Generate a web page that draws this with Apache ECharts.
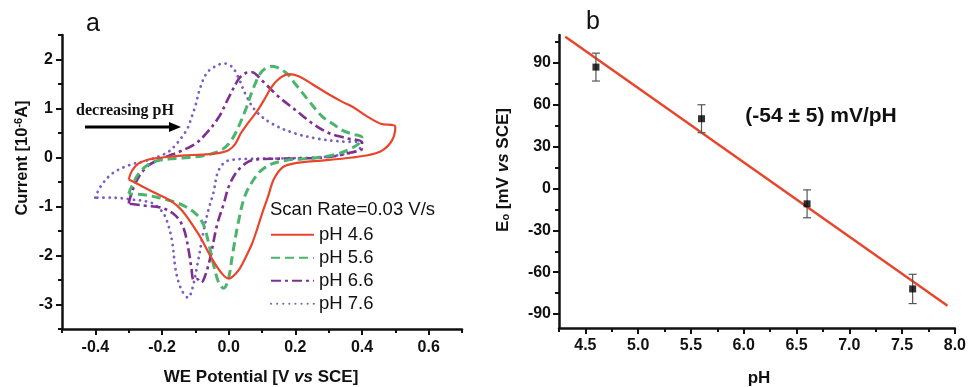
<!DOCTYPE html>
<html><head><meta charset="utf-8">
<script src="https://cdn.jsdelivr.net/npm/echarts@6/dist/echarts.min.js"></script>
<style>html,body{margin:0;padding:0;background:#fff}#c{width:969px;height:387px}</style>
</head><body><div id="c"></div>
<script>
// ---------- Panel a: cyclic voltammograms (potential V vs SCE, current 1e-6 A) ----------
const seriesNames = ['pH 4.6', 'pH 5.6', 'pH 6.6', 'pH 7.6'];
const cvPH46 = [[-0.30,-0.45],[-0.29,-0.27],[-0.27,-0.12],[-0.24,-0.04],[-0.20,0.00],[-0.14,0.04],[-0.08,0.06],[-0.03,0.09],[0.00,0.15],[0.02,0.28],[0.036,0.49],[0.06,0.72],[0.087,0.96],[0.11,1.22],[0.128,1.43],[0.15,1.60],[0.18,1.70],[0.21,1.66],[0.25,1.50],[0.30,1.29],[0.34,1.14],[0.37,1.04],[0.42,0.82],[0.456,0.69],[0.50,0.63],
  [0.49,0.35],[0.46,0.14],[0.42,0.05],[0.37,0.00],[0.30,-0.05],[0.23,-0.09],[0.19,-0.13],[0.16,-0.21],[0.135,-0.45],[0.118,-0.80],[0.10,-1.15],[0.085,-1.47],[0.07,-1.76],[0.05,-2.05],[0.03,-2.30],[0.012,-2.43],[0.00,-2.47],[-0.02,-2.37],[-0.05,-2.07],[-0.09,-1.57],[-0.14,-1.08],[-0.175,-0.88],[-0.225,-0.71],[-0.27,-0.55],[-0.30,-0.45]];
const cvPH56 = [[-0.30,-0.74],[-0.29,-0.58],[-0.27,-0.33],[-0.24,-0.14],[-0.21,-0.06],[-0.16,-0.02],[-0.12,0.00],[-0.08,0.03],[-0.05,0.08],[-0.02,0.16],[0.00,0.28],[0.02,0.49],[0.05,0.96],[0.075,1.43],[0.10,1.76],[0.13,1.86],[0.17,1.74],[0.20,1.50],[0.24,1.16],[0.28,0.84],[0.31,0.70],[0.34,0.56],[0.37,0.48],[0.40,0.41],
  [0.39,0.28],[0.366,0.18],[0.33,0.08],[0.28,0.01],[0.22,-0.03],[0.17,-0.06],[0.13,-0.13],[0.10,-0.25],[0.08,-0.40],[0.05,-0.76],[0.03,-1.29],[0.012,-1.96],[0.00,-2.45],[-0.015,-2.67],[-0.03,-2.55],[-0.045,-2.2],[-0.06,-1.75],[-0.075,-1.38],[-0.095,-1.17],[-0.13,-1.0],[-0.17,-0.89],[-0.21,-0.82],[-0.255,-0.76],[-0.30,-0.74]];
const cvPH66 = [[-0.30,-0.94],[-0.29,-0.70],[-0.27,-0.40],[-0.24,-0.16],[-0.20,-0.02],[-0.17,0.06],[-0.14,0.14],[-0.10,0.28],[-0.07,0.47],[-0.03,0.82],[0.00,1.22],[0.03,1.60],[0.05,1.72],[0.07,1.74],[0.10,1.57],[0.15,1.24],[0.20,0.97],[0.25,0.70],[0.30,0.50],[0.35,0.40],[0.40,0.31],
  [0.40,0.18],[0.366,0.10],[0.30,0.01],[0.20,-0.02],[0.10,-0.03],[0.06,-0.08],[0.04,-0.18],[0.02,-0.33],[0.00,-0.60],[-0.015,-0.95],[-0.035,-1.38],[-0.055,-2.04],[-0.07,-2.40],[-0.082,-2.55],[-0.095,-2.48],[-0.105,-2.5],[-0.112,-2.25],[-0.12,-1.90],[-0.135,-1.45],[-0.16,-1.18],[-0.20,-1.03],[-0.255,-0.98],[-0.30,-0.94]];
const cvPH76 = [[-0.40,-0.82],[-0.385,-0.60],[-0.35,-0.33],[-0.30,-0.16],[-0.25,-0.07],[-0.21,0.02],[-0.18,0.12],[-0.16,0.25],[-0.14,0.42],[-0.123,0.60],[-0.11,0.85],[-0.10,1.05],[-0.085,1.43],[-0.065,1.73],[-0.04,1.86],[-0.015,1.92],[0.01,1.85],[0.03,1.62],[0.05,1.30],[0.08,0.96],[0.13,0.69],[0.20,0.49],[0.27,0.38],[0.33,0.33],[0.40,0.30],
  [0.39,0.16],[0.35,0.07],[0.28,0.01],[0.15,-0.02],[0.05,-0.03],[0.00,-0.06],[-0.02,-0.15],[-0.035,-0.35],[-0.045,-0.70],[-0.06,-1.05],[-0.075,-1.49],[-0.093,-2.16],[-0.11,-2.70],[-0.122,-2.86],[-0.135,-2.78],[-0.15,-2.55],[-0.16,-2.25],[-0.17,-1.70],[-0.185,-1.30],[-0.20,-1.10],[-0.23,-0.93],[-0.30,-0.85],[-0.35,-0.82],[-0.40,-0.82]];
const cvXTicks = [-0.4, -0.2, 0.0, 0.2, 0.4, 0.6];
const cvXMinor = [-0.5, -0.3, -0.1, 0.1, 0.3, 0.5, 0.7];
const cvYTicks = [-3, -2, -1, 0, 1, 2];
const cvYMinor = [-3.5, -2.5, -1.5, -0.5, 0.5, 1.5, 2.5];

// ---------- Panel b: E0 vs pH ----------
const phValues = [4.6, 5.6, 6.6, 7.6];
const e0Values = [87, 50, -11, -72];
const e0Errors = [10, 10, 10, 10.5];
const fitX = [4.31, 7.93];
const fitY = [108.7, -84];
const phTicks = [4.5, 5.0, 5.5, 6.0, 6.5, 7.0, 7.5, 8.0];
const phMinor = [4.25, 4.75, 5.25, 5.75, 6.25, 6.75, 7.25, 7.75];
const e0Ticks = [-90, -60, -30, 0, 30, 60, 90];
const e0Minor = [-75, -45, -15, 15, 45, 75, 105];

const colors = ['#e8462c', '#4bb46e', '#7e2f8f', '#7b5ccb'];
const lineStyles = [
  {width: 2.2, type: 'solid'},
  {width: 3, type: [9, 5]},
  {width: 2.6, type: [10, 4, 3, 4]},
  {width: 2.8, type: [0.1, 6], cap: 'round'}
];
const FONT = 'Liberation Sans, Arial, sans-serif';
const black = '#111';

function mainAxis(gridIndex, pos, min, max, ticks, fmt, margin) {
  return {
    type: 'value', gridIndex, min, max, position: pos,
    axisLine: {show: true, onZero: false, lineStyle: {color: black, width: 2.5}},
    axisTick: {show: true, customValues: ticks, length: 6, inside: false, lineStyle: {color: black, width: 2}},
    axisLabel: {show: true, customValues: ticks, formatter: fmt, margin, color: black,
      fontFamily: FONT, fontWeight: 'bold', fontSize: 16},
    splitLine: {show: false}
  };
}
function minorAxis(gridIndex, pos, min, max, ticks) {
  return {
    type: 'value', gridIndex, min, max, position: pos, offset: 0,
    axisLine: {show: false, onZero: false},
    axisTick: {show: true, customValues: ticks, length: 4, lineStyle: {color: black, width: 2}},
    axisLabel: {show: false},
    splitLine: {show: false}
  };
}

const cvSets = [cvPH46, cvPH56, cvPH66, cvPH76];
const series = cvSets.map((d, i) => ({
  name: seriesNames[i], type: 'line', xAxisIndex: 0, yAxisIndex: 0,
  data: d, showSymbol: false, symbol: 'none', smooth: 0.35,
  lineStyle: Object.assign({color: colors[i]}, lineStyles[i]),
  itemStyle: {color: colors[i]}, z: 5 - i
}));
series.push({
  name: 'fit', type: 'line', xAxisIndex: 2, yAxisIndex: 2,
  data: fitX.map((x, i) => [x, fitY[i]]), showSymbol: false, symbol: 'none',
  lineStyle: {color: '#e8462c', width: 2.5}, z: 2
});
series.push({
  name: 'err', type: 'custom', xAxisIndex: 2, yAxisIndex: 2,
  data: phValues.map((x, i) => [x, e0Values[i], e0Errors[i]]),
  encode: {x: 0, y: 1},
  renderItem(params, api) {
    const x = api.value(0), y = api.value(1), e = api.value(2);
    const t = api.coord([x, y + e]), b = api.coord([x, y - e]);
    const w = 4, st = {stroke: '#555', lineWidth: 1.2};
    return {type: 'group', children: [
      {type: 'line', shape: {x1: t[0], y1: t[1], x2: b[0], y2: b[1]}, style: st},
      {type: 'line', shape: {x1: t[0] - w, y1: t[1], x2: t[0] + w, y2: t[1]}, style: st},
      {type: 'line', shape: {x1: b[0] - w, y1: b[1], x2: b[0] + w, y2: b[1]}, style: st}
    ]};
  }, z: 3
});
series.push({
  name: 'E0', type: 'scatter', xAxisIndex: 2, yAxisIndex: 2,
  data: phValues.map((x, i) => [x, e0Values[i]]),
  symbol: 'rect', symbolSize: 7, itemStyle: {color: '#000'}, z: 4
});

const txt = (x, y, text, extra) => ({type: 'text', x, y, z: 100,
  style: Object.assign({text, fill: black, font: 'bold 17px ' + FONT, align: 'center', verticalAlign: 'middle'}, extra || {})});

const option = {
  backgroundColor: '#ffffff',
  animation: false,
  grid: [
    {left: 62, top: 35, width: 400, height: 294},
    {left: 559, top: 35, width: 396, height: 293}
  ],
  xAxis: [
    mainAxis(0, 'bottom', -0.5, 0.7, cvXTicks, v => v.toFixed(1), 11),
    minorAxis(0, 'bottom', -0.5, 0.7, cvXMinor),
    mainAxis(1, 'bottom', 4.25, 8.0, phTicks, v => v.toFixed(1), 10),
    minorAxis(1, 'bottom', 4.25, 8.0, phMinor)
  ],
  yAxis: [
    mainAxis(0, 'left', -3.5, 2.5, cvYTicks, v => String(v), 9),
    minorAxis(0, 'left', -3.5, 2.5, cvYMinor),
    mainAxis(1, 'left', -100, 110, e0Ticks, v => String(v), 8),
    minorAxis(1, 'left', -100, 110, e0Minor)
  ],
  legend: {
    data: seriesNames, orient: 'vertical', left: 270, top: 225, padding: 0,
    itemWidth: 43, itemHeight: 14, itemGap: 3.5, itemTextGap: 5,
    itemStyle: {opacity: 0, borderWidth: 0},
    textStyle: {color: black, fontFamily: FONT, fontSize: 18.5, lineHeight: 19.5},
    selectedMode: false
  },
  series,
  graphic: [
    txt(93, 24, 'a', {font: '25px ' + FONT}),
    txt(593, 22, 'b', {font: '25px ' + FONT}),
    txt(261, 377, '{n|WE Potential [V }{i|vs}{n| SCE]}', {
      rich: {n: {font: 'bold 17px ' + FONT, fill: black}, i: {font: 'italic bold 17px ' + FONT, fill: black}}}),
    txt(759, 378, 'pH', {font: 'bold 17px ' + FONT}),
    Object.assign(txt(22, 158, '{n|Current [10}{s|-6}{n|A]}', {
      rich: {n: {font: 'bold 16.5px ' + FONT, fill: black, verticalAlign: 'bottom'},
             s: {font: 'bold 11px ' + FONT, fill: black, verticalAlign: 'top'}}}), {rotation: Math.PI / 2}),
    Object.assign(txt(503, 170, '{n|E}{s|o}{n| [mV }{i|vs}{n| SCE]}', {
      rich: {n: {font: 'bold 17px ' + FONT, fill: black, verticalAlign: 'top'},
             i: {font: 'italic bold 17px ' + FONT, fill: black, verticalAlign: 'top'},
             s: {font: 'bold 11px ' + FONT, fill: black, verticalAlign: 'bottom'}}}), {rotation: Math.PI / 2}),
    txt(270, 210, 'Scan Rate=0.03 V/s', {font: '18.5px ' + FONT, align: 'left'}),
    txt(125, 111, 'decreasing pH', {font: 'bold 16px Liberation Serif, Times New Roman, serif'}),
    {type: 'line', z: 100, shape: {x1: 85, y1: 127, x2: 172, y2: 127}, style: {stroke: '#000', lineWidth: 3}},
    {type: 'polygon', z: 100, shape: {points: [[169, 122], [181, 127], [169, 132]]}, style: {fill: '#000'}},
    txt(821, 116, '(-54 \u00b1 5) mV/pH', {font: 'bold 21px ' + FONT})
  ]
};
const chart = echarts.init(document.getElementById('c'), null, {renderer: 'canvas'});
chart.setOption(option);
</script>
</body></html>
